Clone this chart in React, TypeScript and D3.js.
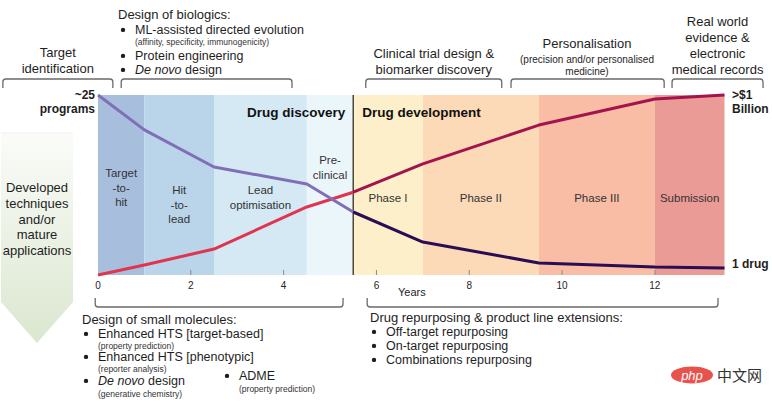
import * as d3 from "d3";

// years at which the curves change slope
const years = [0, 1, 2.5, 4.5, 5.5, 7, 9.5, 12, 13.5];
// number of programs remaining (relative, 100 = ~25 programs)
const programs = [100, 80.6, 60, 50.6, 35, 18.3, 6.7, 4.4, 3.9];
// cumulative cost (relative, 100 = >$1 billion)
const cost = [0, 5.6, 14.4, 37.8, 46, 61.7, 83.3, 97.8, 100];

const stageStart = [0, 1, 2.5, 4.5, 5.5, 7, 9.5, 12];
const stageEnd = [1, 2.5, 4.5, 5.5, 7, 9.5, 12, 13.5];
const stageLabels = [
  ["Target", "-to-", "hit"],
  ["Hit", "-to-", "lead"],
  ["Lead", "optimisation"],
  ["Pre-", "clinical"],
  ["Phase I"],
  ["Phase II"],
  ["Phase III"],
  ["Submission"],
];
const xTicks = [0, 2, 4, 6, 8, 10, 12];
const splitYear = 5.5;

// top annotations (year ranges of the brackets)
const topStart = [-2.05, 0.5, 5.77, 8.9, 12.37];
const topEnd = [0.32, 4.18, 8.7, 12.2, 14.33];

const stageColors = ["#a7bfdc", "#bad5ea", "#d4e9f4", "#ebf6fb", "#fdefc9", "#fcd9b7", "#f9bca5", "#eb9b95"];
const stageLabelY = [177, 194, 194, 164, 202, 202, 202, 202];

const W = 772;
const H = 406;
const plot = { left: 98, right: 724.5, top: 95, bottom: 275 };
const FONT = "'Liberation Sans', Arial, Helvetica, sans-serif";
const TXT = "#1e1e1e";
const SMALL = 8.5;

function Bracket({ x0, x1, y, dir }: { x0: number; x1: number; y: number; dir: number }) {
  const r = 3;
  const h = 9 * dir;
  const d = `M${x0},${y + h} L${x0},${y + r * dir} Q${x0},${y} ${x0 + r},${y} L${x1 - r},${y} Q${x1},${y} ${x1},${y + r * dir} L${x1},${y + h}`;
  return <path d={d} fill="none" stroke="#6a6a6a" strokeWidth={1.3} />;
}

function Lines({ x, y, lines, size, lh, anchor = "middle", weight = "normal" }: any) {
  return (
    <text x={x} y={y} fontSize={size} textAnchor={anchor} fontWeight={weight} fill={TXT}>
      {lines.map((l: any, i: number) => (
        <tspan key={i} x={x} dy={i === 0 ? 0 : lh}>
          {l}
        </tspan>
      ))}
    </text>
  );
}

function Bullet({ x, y, children, size = 12.5 }: any) {
  return (
    <g>
      <circle cx={x} cy={y - size * 0.33} r={2.2} fill={TXT} />
      <text x={x + 12} y={y} fontSize={size} fill={TXT}>
        {children}
      </text>
    </g>
  );
}

export default function App() {
  const x = d3.scaleLinear().domain([0, 13.5]).range([plot.left, plot.right]);
  const y = d3.scaleLinear().domain([0, 100]).range([plot.bottom, plot.top]);

  const pts = (vals: number[]) => years.map((yr, i) => ({ yr, v: vals[i] }));
  const line = d3
    .line<{ yr: number; v: number }>()
    .x((d) => x(d.yr))
    .y((d) => y(d.v));
  const early = (vals: number[]) => pts(vals).filter((d) => d.yr <= splitYear);
  const late = (vals: number[]) => pts(vals).filter((d) => d.yr >= splitYear);

  const topTexts = [
    { lines: ["Target", "identification"], y: 57 },
    null,
    { lines: ["Clinical trial design &", "biomarker discovery"], y: 58 },
    null,
    { lines: ["Real world", "evidence &", "electronic", "medical records"], y: 26 },
  ];

  return (
    <svg
      width={W}
      height={H}
      style={{ position: "absolute", left: 0, top: 0, background: "#fff" }}
      fontFamily={FONT}
    >
      <defs>
        <linearGradient id="arrowGrad" x1="0" y1="0" x2="0" y2="1">
          <stop offset="0%" stopColor="#fbfcf9" />
          <stop offset="100%" stopColor="#dbe7d0" />
        </linearGradient>
      </defs>

      {/* left arrow */}
      <path d="M1,133 L73,133 L73,302 L37,343 L1,302 Z" fill="url(#arrowGrad)" />
      <line x1={1} x2={73} y1={133} y2={133} stroke="#eef1ea" strokeWidth={1} />
      <Lines
        x={37}
        y={192}
        lines={["Developed", "techniques", "and/or", "mature", "applications"]}
        size={13}
        lh={15.8}
      />

      {/* stage bands */}
      {stageStart.map((s, i) => (
        <rect
          key={i}
          x={x(s)}
          y={plot.top}
          width={x(stageEnd[i]) - x(s)}
          height={plot.bottom - plot.top}
          fill={stageColors[i]}
        />
      ))}
      {stageLabels.map((ls, i) => (
        <text
          key={i}
          x={x((stageStart[i] + stageEnd[i]) / 2)}
          y={stageLabelY[i]}
          fontSize={11.5}
          textAnchor="middle"
          fill="#333"
        >
          {ls.map((l, j) => (
            <tspan key={j} x={x((stageStart[i] + stageEnd[i]) / 2)} dy={j === 0 ? 0 : 14.5}>
              {l}
            </tspan>
          ))}
        </text>
      ))}

      {/* divider */}
      <line x1={x(splitYear)} x2={x(splitYear)} y1={plot.top} y2={plot.bottom} stroke="#4d463a" strokeWidth={1.5} />

      {/* ticks */}
      {xTicks.map((t) => (
        <g key={t}>
          {t > 0 && <line x1={x(t)} x2={x(t)} y1={plot.bottom} y2={plot.bottom - 5} stroke="#8a8a8a" strokeWidth={1} />}
          <text x={x(t)} y={289} fontSize={10} textAnchor="middle" fill={TXT}>
            {t}
          </text>
        </g>
      ))}
      <text x={398} y={296} fontSize={11} fill={TXT}>
        Years
      </text>

      {/* curves */}
      <path d={line(early(cost)) || ""} fill="none" stroke="#e0344f" strokeWidth={3} strokeLinejoin="round" />
      <path d={line(early(programs)) || ""} fill="none" stroke="#806fb7" strokeWidth={3} strokeLinejoin="round" />
      <path d={line(late(cost)) || ""} fill="none" stroke="#a3134e" strokeWidth={3} strokeLinejoin="round" />
      <path d={line(late(programs)) || ""} fill="none" stroke="#2a0d52" strokeWidth={3} strokeLinejoin="round" />

      {/* phase headers */}
      <text x={x(splitYear) - 8} y={117} fontSize={13.5} fontWeight="bold" textAnchor="end" fill="#111">
        Drug discovery
      </text>
      <text x={x(splitYear) + 9} y={117} fontSize={13.5} fontWeight="bold" fill="#111">
        Drug development
      </text>

      {/* end labels */}
      <Lines x={95} y={99} lines={["~25", "programs"]} size={12} lh={14} anchor="end" weight="bold" />
      <Lines x={732} y={99} lines={[">$1", "Billion"]} size={12} lh={14} anchor="start" weight="bold" />
      <text x={732} y={268} fontSize={12} fontWeight="bold" fill={TXT}>
        1 drug
      </text>

      {/* top brackets */}
      {topStart.map((s, i) => (
        <Bracket key={i} x0={x(s)} x1={x(topEnd[i])} y={79} dir={1} />
      ))}
      {topTexts.map((t, i) =>
        t ? (
          <Lines key={i} x={x((topStart[i] + topEnd[i]) / 2)} y={t.y} lines={t.lines} size={13} lh={16} />
        ) : null
      )}

      {/* biologics */}
      <text x={118} y={19} fontSize={13} fill={TXT}>
        Design of biologics:
      </text>
      <Bullet x={123} y={34}>ML-assisted directed evolution</Bullet>
      <text x={135} y={44.5} fontSize={SMALL} fill="#333">
        (affinity, specificity, immunogenicity)
      </text>
      <Bullet x={123} y={60}>Protein engineering</Bullet>
      <Bullet x={123} y={74}>
        <tspan fontStyle="italic">De novo</tspan> design
      </Bullet>

      {/* personalisation */}
      <text x={587} y={48} fontSize={13} textAnchor="middle" fill={TXT}>
        Personalisation
      </text>
      <Lines x={587} y={63} lines={["(precision and/or personalised", "medicine)"]} size={10} lh={12} />

      {/* bottom brackets */}
      <Bracket x0={x(-0.06)} x1={x(5.28)} y={307} dir={-1} />
      <Bracket x0={x(5.8)} x1={x(13.36)} y={307} dir={-1} />

      {/* small molecules */}
      <text x={82} y={324} fontSize={13} fill={TXT}>
        Design of small molecules:
      </text>
      <Bullet x={86} y={338}>Enhanced HTS [target-based]</Bullet>
      <text x={98} y={348.5} fontSize={SMALL} fill="#333">
        (property prediction)
      </text>
      <Bullet x={86} y={361}>Enhanced HTS [phenotypic]</Bullet>
      <text x={98} y={371.5} fontSize={SMALL} fill="#333">
        (reporter analysis)
      </text>
      <Bullet x={86} y={385}>
        <tspan fontStyle="italic">De novo</tspan> design
      </Bullet>
      <text x={98} y={396.5} fontSize={SMALL} fill="#333">
        (generative chemistry)
      </text>
      <Bullet x={227} y={380}>ADME</Bullet>
      <text x={239} y={391.5} fontSize={SMALL} fill="#333">
        (property prediction)
      </text>

      {/* repurposing */}
      <text x={370} y={322} fontSize={13} fill={TXT}>
        Drug repurposing &amp; product line extensions:
      </text>
      <Bullet x={374} y={336}>Off-target repurposing</Bullet>
      <Bullet x={374} y={350}>On-target repurposing</Bullet>
      <Bullet x={374} y={364}>Combinations repurposing</Bullet>

      {/* watermark */}
      <ellipse cx={692} cy={375} rx={21} ry={8.5} fill="#e8524d" />
      <text x={692} y={379.5} fontSize={13} fontStyle="italic" textAnchor="middle" fill="#fff">
        php
      </text>
      <text x={717} y={381} fontSize={15} fill="#333" fontFamily="'Noto Sans CJK SC', sans-serif">
        中文网
      </text>
    </svg>
  );
}
